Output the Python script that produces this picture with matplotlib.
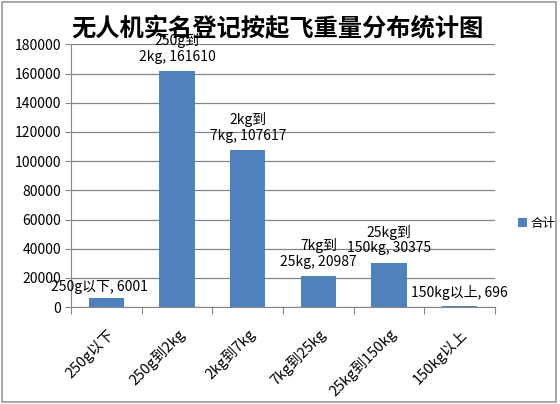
import matplotlib.pyplot as plt
from matplotlib.patches import Rectangle
import numpy as np

plt.rcParams['font.family'] = ['Noto Sans CJK SC', 'DejaVu Sans']

categories = ['250g以下', '250g到2kg', '2kg到7kg', '7kg到25kg', '25kg到150kg', '150kg以上']
values = [6001, 161610, 107617, 20987, 30375, 696]
bar_labels = ['250g以下, 6001', '250g到\n2kg, 161610', '2kg到\n7kg, 107617',
              '7kg到\n25kg, 20987', '25kg到\n150kg, 30375', '150kg以上, 696']
yticks = list(range(0, 180001, 20000))

bar_color = '#4F81BD'
grid_color = '#868686'

fig = plt.figure(figsize=(5.6, 4.04), dpi=100)
ax = fig.add_axes([0.127, 0.240, 0.757, 0.650])

x = np.arange(len(categories))
ax.bar(x, values, width=0.5, color=bar_color, zorder=3, label='合计')

ax.set_xlim(-0.5, len(categories) - 0.5)
ax.set_ylim(0, 180000)
ax.set_yticks(yticks)
ax.set_yticklabels([str(v) for v in yticks], fontsize=10)
ax.yaxis.grid(True, color=grid_color, linewidth=0.9, zorder=0)

# x ticks at category boundaries, labels at centres
ax.set_xticks(np.arange(-0.5, len(categories), 1.0))
ax.set_xticklabels([])
ax.set_xticks(x, minor=True)
ax.set_xticklabels(categories, minor=True, rotation=45, ha='right',
                   rotation_mode='anchor', fontsize=10.5)
ax.tick_params(axis='x', which='major', length=5, color=grid_color, direction='out')
ax.tick_params(axis='x', which='minor', length=0, pad=14)
ax.tick_params(axis='y', length=4, color=grid_color, pad=3)

for s in ['top', 'right']:
    ax.spines[s].set_visible(False)
for s in ['left', 'bottom']:
    ax.spines[s].set_color(grid_color)

# data labels
offsets = [(-0.1, 3000), (0, 5000), (0, 5000), (0, 5000), (0, 5000), (0, 4000)]
for i, (v, lab) in enumerate(zip(values, bar_labels)):
    dx, dy = offsets[i]
    ax.text(i + dx, v + dy, lab, ha='center', va='bottom', fontsize=10,
            linespacing=1.15, zorder=4)

# legend
fig.legend(loc='center left', bbox_to_anchor=(0.905, 0.448), frameon=False,
           fontsize=9, handlelength=0.7, handleheight=0.7, handletextpad=0.3)

fig.text(0.496, 0.927, '无人机实名登记按起飞重量分布统计图', ha='center', va='center',
         fontsize=17.5, fontweight='heavy')

fig.patches.append(Rectangle((0.004, 0.006), 0.989, 0.988, transform=fig.transFigure,
                             fill=False, edgecolor='#999999', linewidth=1.2))

fig.savefig('out.png', dpi=100)
